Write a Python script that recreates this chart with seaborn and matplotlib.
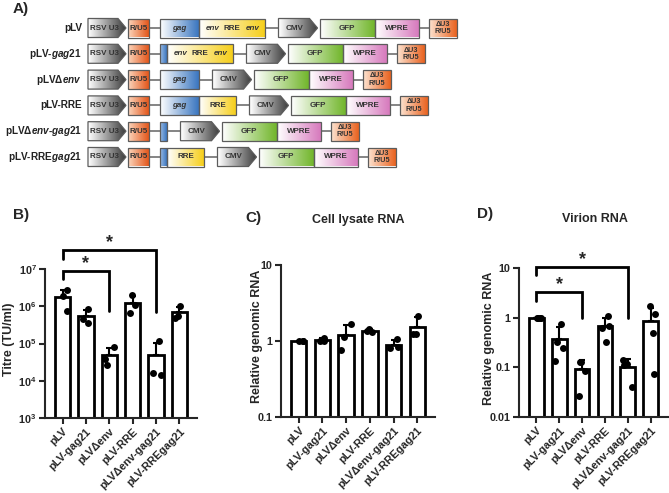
import numpy as np
import pandas as pd
import matplotlib
matplotlib.use("Agg")
import matplotlib.pyplot as plt
import matplotlib.ticker as mticker
from matplotlib.patches import Polygon
from matplotlib.colors import LinearSegmentedColormap
import seaborn as sns

sns.set_theme(style="ticks")
plt.rcParams["font.family"] = ["Liberation Sans", "DejaVu Sans"]
plt.rcParams["font.weight"] = "bold"
plt.rcParams["mathtext.fontset"] = "custom"
plt.rcParams["mathtext.rm"] = "Liberation Sans:bold"
plt.rcParams["mathtext.it"] = "Liberation Sans:bold:italic"
plt.rcParams["mathtext.bf"] = "Liberation Sans:bold"

# ---- data -------------------------------------------------------------
constructs = ["pLV", "pLV-gag21", "pLVΔenv", "pLV-RRE", "pLVΔenv-gag21", "pLV-RREgag21"]

titre = [[2.7e6, 1.9e6, 7.6e5],
         [8.5e5, 3.5e5, 4.5e5],
         [7.9e4, 3.9e4, 2.6e4],
         [2.0e6, 1.1e6, 6.6e5],
         [1.15e5, 1.45e4, 1.6e4],
         [1.02e6, 4.7e5, 5.6e5]]

lysate = [[1.0, 1.0, 1.0],
          [1.1, 1.0, 1.0],
          [1.66, 0.75, 1.14],
          [1.42, 1.32, 1.36],
          [1.05, 0.84, 0.80],
          [2.13, 1.24, 1.25]]

virion = [[1.0, 1.0, 1.0, 1.0],
          [0.75, 0.33, 0.25, 0.135],
          [0.13, 0.13, 0.086, 0.027],
          [1.1, 0.67, 0.63, 0.32],
          [0.14, 0.116, 0.11, 0.041],
          [1.69, 1.19, 0.49, 0.073]]

# significance: (group i, group j, bracket top, left leg end, right leg end)
sig_titre = [(0, 2, 8.9e6, 5.4e6, 7.6e5), (0, 4, 3.2e7, 1.9e7, 6.8e5)]
sig_virion = [(0, 2, 3.35, 2.2, 1.0), (0, 4, 10.7, 7.1, 1.0)]

# ---- schematic (panel A) ----------------------------------------------
row_labels = ["pLV", r"pLV-$\mathit{gag}$21", r"pLVΔ$\mathit{env}$", "pLV-RRE",
              r"pLVΔ$\mathit{env}$-$\mathit{gag}$21", r"pLV-RRE$\mathit{gag}$21"]

# numbers in a row are connecting-line lengths
row_parts = [
    ["RSV U3", "R/U5", 11, "gag", "envRREenv", 13.5, "CMV", "GFP", "WPRE", 10, "dU3"],
    ["RSV U3", "R/U5", 11, "gag21", "envRREenv", 13.5, "CMV", "GFP", "WPRE", 10, "dU3"],
    ["RSV U3", "R/U5", 11, "gag", 13.5, "CMV", "GFP", "WPRE", 10, "dU3"],
    ["RSV U3", "R/U5", 11, "gag", "RRE", 13.5, "CMV", "GFP", "WPRE", 10, "dU3"],
    ["RSV U3", "R/U5", 11, "gag21", 13.5, "CMV", "GFP", "WPRE", 10, "dU3"],
    ["RSV U3", "R/U5", 11, "gag21", "RRE", 13.5, "CMV", "GFP", "WPRE", 10, "dU3"],
]

part_style = {
    "RSV U3": dict(w=38, c=("#ffffff", "#3c3c3c"), arrow=True),
    "R/U5": dict(w=21, c=("#fbd6bd", "#e4561a"), arrow=False),
    "gag": dict(w=39, c=("#ffffff", "#3a76c0"), arrow=False),
    "gag21": dict(w=7, c=("#9dbde6", "#3a76c0"), arrow=False),
    "envRREenv": dict(w=66, c=("#ffffff", "#f6cf1c"), arrow=False),
    "RRE": dict(w=37, c=("#ffffff", "#f6cf1c"), arrow=False),
    "CMV": dict(w=39, c=("#ffffff", "#3c3c3c"), arrow=True),
    "GFP": dict(w=55, c=("#ffffff", "#72b62c"), arrow=False),
    "WPRE": dict(w=44, c=("#ffffff", "#d77abd"), arrow=False),
    "dU3": dict(w=28, c=("#fde3d0", "#e9621f"), arrow=False),
}


def grad_box(ax, x, w, yc, h, colors, arrow):
    y0, y1 = yc - h / 2, yc + h / 2
    if arrow:
        tip = 8
        pts = [(x, y0), (x + w - tip, y0), (x + w, yc), (x + w - tip, y1), (x, y1)]
    else:
        pts = [(x, y0), (x + w, y0), (x + w, y1), (x, y1)]
    patch = Polygon(pts, closed=True, facecolor="none", edgecolor="#5c5c5c", lw=0.9, zorder=3)
    ax.add_patch(patch)
    cmap = LinearSegmentedColormap.from_list("g", list(colors))
    grad = np.linspace(0, 1, 64).reshape(1, -1)
    im = ax.imshow(grad, cmap=cmap, extent=(x, x + w, y1, y0), aspect="auto", zorder=2)
    im.set_clip_path(patch)


def box_text(ax, name, x, w, yc):
    kw = dict(ha="center", va="center", fontsize=5.8, color="#333333", zorder=4)
    if name == "RSV U3" or name == "CMV":
        ax.text(x + (w - 8) / 2 + 1, yc, name, **kw)
    elif name == "gag":
        ax.text(x + w / 2, yc, "gag", fontstyle="italic", **kw)
    elif name == "envRREenv":
        ax.text(x + w * 0.2, yc, "env", fontstyle="italic", **kw)
        ax.text(x + w * 0.5, yc, "RRE", **kw)
        ax.text(x + w * 0.82, yc, "env", fontstyle="italic", **kw)
    elif name == "dU3":
        ax.text(x + w / 2, yc, "ΔU3\nR/U5", linespacing=1.1, **{**kw, "fontsize": 5.2})
    elif name == "gag21":
        pass
    else:
        ax.text(x + w / 2, yc, name, **kw)


def draw_schematic(ax):
    ax.set_xlim(0, 669)
    ax.set_ylim(170, 0)
    ax.axis("off")
    for r, (label, parts) in enumerate(zip(row_labels, row_parts)):
        yc = 28 + r * 25.8
        ax.text(82, yc, label, ha="right", va="center", fontsize=7.2, color="#222222")
        x = 88
        prev_arrow = False
        for p in parts:
            if isinstance(p, (int, float)):
                ax.plot([x, x + p], [yc, yc], color="#707070", lw=1.2, zorder=1)
                x += p
                continue
            st = part_style[p]
            if prev_arrow:
                x += 2
            grad_box(ax, x, st["w"], yc, 19, st["c"], st["arrow"])
            box_text(ax, p, x, st["w"], yc)
            x += st["w"]
            prev_arrow = st["arrow"]
    ax.text(13, 9, "A)", ha="left", va="center", fontsize=11)


# ---- bar panels -------------------------------------------------------
def bar_panel(ax, values, ylim, yticks, formatter, ylabel, label_x, brackets=()):
    df = pd.DataFrame([(c, v) for c, vals in zip(constructs, values) for v in vals],
                      columns=["construct", "value"])
    stats = df.groupby("construct", sort=False)["value"].agg(["mean", "std"]).reset_index()
    ax.set_yscale("log")
    sns.barplot(data=stats, x="construct", y="mean", order=constructs, color="white",
                edgecolor="black", linewidth=2, width=0.65, saturation=1, ax=ax, zorder=2)
    ax.errorbar(np.arange(len(constructs)), stats["mean"],
                yerr=[np.zeros(len(stats)), stats["std"]], fmt="none", ecolor="black",
                elinewidth=1.5, capsize=2.5, capthick=1.5, zorder=1.5)
    np.random.seed(4)
    sns.stripplot(data=df, x="construct", y="value", order=constructs, color="black",
                  size=5, jitter=0.2, ax=ax, zorder=3)
    ax.set_ylim(*ylim)
    ax.set_xlim(-0.75, len(constructs) - 0.25)
    ax.set_yticks(yticks)
    ax.yaxis.set_major_formatter(formatter)
    ax.yaxis.set_minor_locator(mticker.NullLocator())
    ax.set_xlabel("")
    ax.set_ylabel(ylabel, fontsize=9, fontweight="bold")
    ax.yaxis.set_label_coords(label_x, 0.53)
    ax.set_xticks(np.arange(len(constructs)))
    ax.set_xticklabels(constructs, rotation=45, ha="right", rotation_mode="anchor",
                       fontsize=7.5, fontweight="bold")
    ax.tick_params(width=1.5, length=4, labelsize=7.8, pad=2)
    for t in ax.get_yticklabels():
        t.set_fontweight("bold")
    sns.despine(ax=ax)
    for s in ("left", "bottom"):
        ax.spines[s].set_linewidth(1.5)
    for i, j, top, lend, rend in brackets:
        ax.plot([i, i, j, j], [lend, top, top, rend], color="black", lw=2,
                clip_on=False, solid_joinstyle="miter")
        ax.annotate("*", xy=((i + j) / 2, top), xytext=(0, -1), textcoords="offset points",
                    ha="center", va="bottom", fontsize=13, annotation_clip=False)


W, H = 669, 493
fig = plt.figure(figsize=(W / 100, H / 100), dpi=100)


def px_axes(left, top, right, bottom):
    return fig.add_axes([left / W, 1 - bottom / H, (right - left) / W, (bottom - top) / H])


ax_a = px_axes(0, 0, 669, 170)
draw_schematic(ax_a)

ax_b = px_axes(45, 269, 197, 418)
bar_panel(ax_b, titre, (1e3, 1e7), [1e3, 1e4, 1e5, 1e6, 1e7],
          mticker.LogFormatterSciNotation(), "Titre (TU/ml)", -0.195, sig_titre)

ax_c = px_axes(281, 265, 435, 417)
bar_panel(ax_c, lysate, (0.1, 10), [0.1, 1, 10], mticker.FormatStrFormatter("%g"),
          "Relative genomic RNA", -0.12)

ax_d = px_axes(519, 268, 668, 417)
bar_panel(ax_d, virion, (0.01, 10), [0.01, 0.1, 1, 10], mticker.FormatStrFormatter("%g"),
          "Relative genomic RNA", -0.16, sig_virion)

fig.text(13 / W, 1 - 215 / H, "B)", ha="left", va="center", fontsize=11)
fig.text(245 / W, 1 - 218 / H, "C)", ha="left", va="center", fontsize=11)
fig.text(477 / W, 1 - 214 / H, "D)", ha="left", va="center", fontsize=11)
fig.text(358 / W, 1 - 220 / H, "Cell lysate RNA", ha="center", va="center", fontsize=9)
fig.text(595 / W, 1 - 219 / H, "Virion RNA", ha="center", va="center", fontsize=9)

fig.savefig("out.png", dpi=100)
